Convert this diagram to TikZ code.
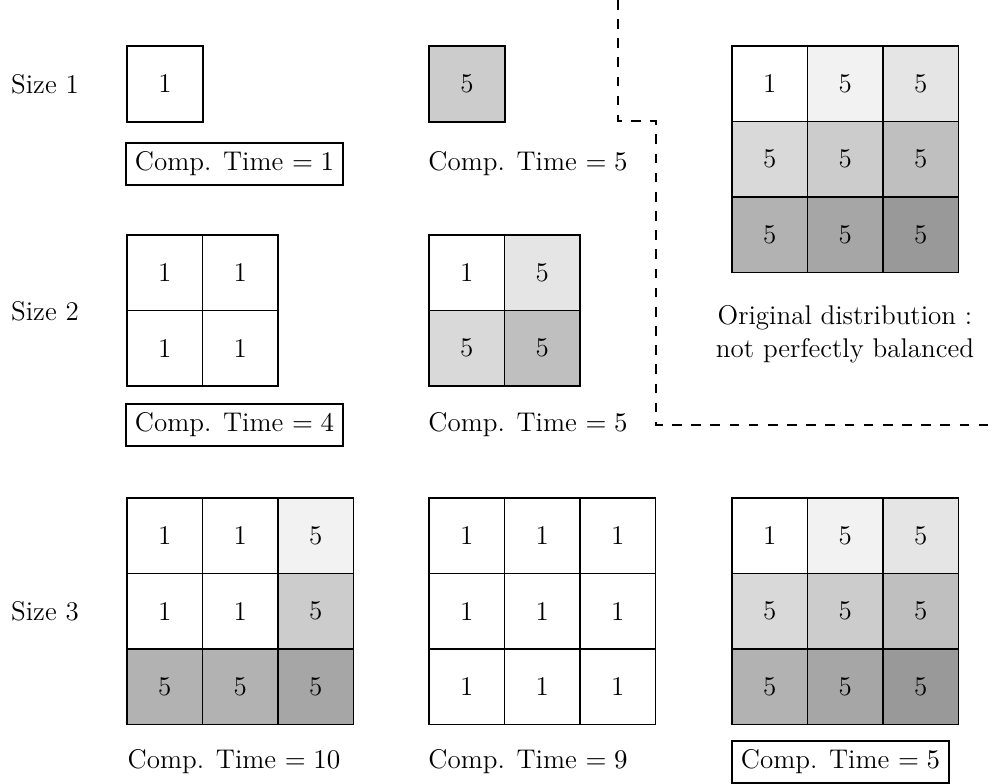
\documentclass[tikz,border=0pt]{standalone}
\begin{document}
\begin{tikzpicture}[x=0.407pt,y=-0.407pt,
  every node/.style={font=\fontsize{11}{13.4}\selectfont},
  cell/.style={draw,line width=0.67pt,minimum size=30.7pt,inner sep=0pt},
  lbl/.style={inner sep=0pt},
  boxed/.style={draw,line width=0.9pt,inner sep=3.6pt},
  sepline/.style={line width=0.55pt,dash pattern=on 3.9pt off 3.9pt}]
\useasboundingbox (0,0) rectangle (997,784);

% row labels
\node[lbl] (s1) at (45,84) {Size 1};
\node[lbl] (s2) at (45,311) {Size 2};
\node[lbl] (s3) at (45,611) {Size 3};

% Size 1
\node[cell] (a1) at (165,84) {1};
\node[cell,fill=black!20] (b1) at (467,84) {5};
\node[boxed] (t1a) at (234.5,164) {Comp. Time $=1$};
\node[lbl] (t1b) at (528,164) {Comp. Time $=5$};

% Size 2
\foreach \r/\c/\v/\f in {1/1/1/0,1/2/1/0,2/1/1/0,2/2/1/0}
  \node[cell,fill=black!\f] (a2-\r\c) at ({127+75.5*(\c-0.5)},{235+75.5*(\r-0.5)}) {\v};
\foreach \r/\c/\v/\f in {1/1/1/0,1/2/5/10,2/1/5/15,2/2/5/25}
  \node[cell,fill=black!\f] (b2-\r\c) at ({429+75.5*(\c-0.5)},{235+75.5*(\r-0.5)}) {\v};
\node[boxed] (t2a) at (234.5,425) {Comp. Time $=4$};
\node[lbl] (t2b) at (528,425) {Comp. Time $=5$};

% Original distribution
\foreach \r/\c/\v/\f in {1/1/1/0,1/2/5/5,1/3/5/10,2/1/5/15,2/2/5/20,2/3/5/25,3/1/5/30,3/2/5/35,3/3/5/40}
  \node[cell,fill=black!\f] (o-\r\c) at ({732+75.5*(\c-0.5)},{46+75.5*(\r-0.5)}) {\v};
\node[lbl,align=center] (od) at (845,334) {Original distribution :\\not perfectly balanced};

% Size 3
\foreach \r/\c/\v/\f in {1/1/1/0,1/2/1/0,1/3/5/5,2/1/1/0,2/2/1/0,2/3/5/20,3/1/5/30,3/2/5/30,3/3/5/35}
  \node[cell,fill=black!\f] (a3-\r\c) at ({127+75.5*(\c-0.5)},{498+75.5*(\r-0.5)}) {\v};
\foreach \r/\c in {1/1,1/2,1/3,2/1,2/2,2/3,3/1,3/2,3/3}
  \node[cell] (b3-\r\c) at ({429+75.5*(\c-0.5)},{498+75.5*(\r-0.5)}) {1};
\foreach \r/\c/\v/\f in {1/1/1/0,1/2/5/5,1/3/5/10,2/1/5/15,2/2/5/20,2/3/5/25,3/1/5/30,3/2/5/35,3/3/5/40}
  \node[cell,fill=black!\f] (c3-\r\c) at ({732+75.5*(\c-0.5)},{498+75.5*(\r-0.5)}) {\v};
\node[lbl] (t3a) at (234,762) {Comp. Time $=10$};
\node[lbl] (t3b) at (528,762) {Comp. Time $=9$};
\node[boxed] (t3c) at (840.5,762) {Comp. Time $=5$};

% dashed separator
\coordinate (d0) at (618,0);
\coordinate (d1) at (618,121);
\coordinate (d2) at (656,121);
\coordinate (d3) at (656,425);
\coordinate (d4) at (997,425);
\draw[sepline] (d0) -- (d1) -- (d2) -- (d3) -- (d4);
\end{tikzpicture}
\end{document}
